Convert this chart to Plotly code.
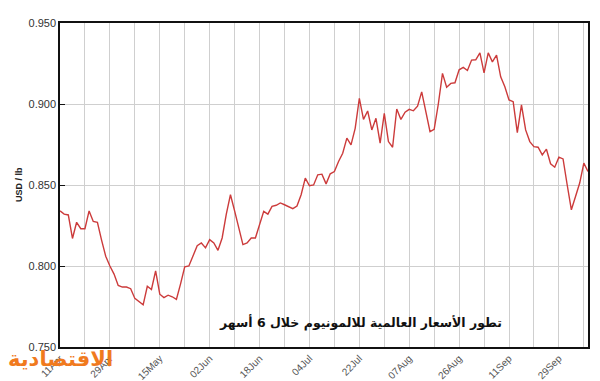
import plotly.graph_objects as go

# Aluminium price, USD per lb, one value per trading day (11 Apr – early Oct)
prices = [
    0.834, 0.832, 0.8315, 0.817, 0.827, 0.823, 0.823, 0.834, 0.8275, 0.827,
    0.816, 0.806, 0.800, 0.795, 0.788, 0.787, 0.787, 0.786, 0.780, 0.778,
    0.776, 0.7875, 0.7855, 0.797, 0.7826, 0.7805, 0.782, 0.781, 0.7794, 0.789,
    0.7995, 0.800, 0.806, 0.8125, 0.8142, 0.8112, 0.8163, 0.8142, 0.8097, 0.8173,
    0.832, 0.844, 0.834, 0.823, 0.8132, 0.8142, 0.8173, 0.8173, 0.826, 0.8337,
    0.832, 0.8368, 0.8375, 0.8389, 0.8378, 0.8368, 0.8354, 0.837, 0.844, 0.8542,
    0.8495, 0.850, 0.8563, 0.8567, 0.8507, 0.8569, 0.8583, 0.8645, 0.8696, 0.8789,
    0.8748, 0.885, 0.9035, 0.8905, 0.8957, 0.884, 0.8912, 0.8758, 0.8942, 0.8768,
    0.8733, 0.8969, 0.8905, 0.8949, 0.8967, 0.8958, 0.8987, 0.9075, 0.895, 0.8829,
    0.8844, 0.900, 0.9189, 0.9104, 0.9127, 0.9131, 0.9211, 0.9226, 0.9207, 0.9271,
    0.9273, 0.9316, 0.9192, 0.9316, 0.926, 0.9301, 0.9168, 0.9106, 0.9025, 0.9014,
    0.8823, 0.8994, 0.884, 0.8768, 0.8737, 0.8733, 0.8686, 0.8721, 0.8631, 0.861,
    0.8672, 0.8661, 0.850, 0.8347, 0.8429, 0.8512, 0.8635, 0.8583,
]
day_index = list(range(len(prices)))

# Labels every 12 trading days, gridlines every 6
tick_positions = list(range(0, 127, 6))
tick_dates = ["11Apr", "29Apr", "15May", "02Jun", "18Jun", "04Jul",
              "22Jul", "07Aug", "26Aug", "11Sep", "29Sep"]
tick_text = []
for k, _ in enumerate(tick_positions):
    tick_text.append(tick_dates[k // 2] if k % 2 == 0 else "")

y_ticks = [0.75, 0.80, 0.85, 0.90, 0.95]
title_ar = "تطور الأسعار العالمية للالمونيوم خلال 6 أسهر"
logo = "الاقتصادية"

# The page body has an 8px margin, so the figure is drawn 8px in from the window corner
W, H = 592, 373
PL, PR, PT, PB = 52, 12, 15, 34
PW, PH = W - PL - PR, H - PT - PB

fig = go.Figure()
fig.add_trace(go.Scatter(
    x=day_index, y=prices, mode="lines",
    line=dict(color="#cc3b3b", width=1.4),
    hoverinfo="skip", showlegend=False,
))

fig.update_layout(
    width=W, height=H,
    margin=dict(l=PL, r=PR, t=PT, b=PB, autoexpand=False),
    paper_bgcolor="white", plot_bgcolor="white",
    font=dict(family="Liberation Sans, Arial, sans-serif", color="#333"),
    xaxis=dict(
        range=[0, 127], tickmode="array", tickvals=tick_positions, ticktext=tick_text,
        tickangle=-45, tickfont=dict(size=10, color="#555"), automargin=False,
        showgrid=True, gridcolor="#cfcfcf", gridwidth=1,
        showline=True, linecolor="#111", linewidth=1.5, mirror=True,
        ticks="", zeroline=False,
    ),
    yaxis=dict(
        range=[0.75, 0.95], tickmode="array", tickvals=y_ticks, automargin=False,
        tickformat=".3f", tickfont=dict(size=11, color="#333"),
        showgrid=True, gridcolor="#cfcfcf", gridwidth=1,
        showline=True, linecolor="#111", linewidth=1.5, mirror=True,
        ticks="inside", ticklen=5, tickcolor="#111", zeroline=False,
    ),
    annotations=[
        dict(text="<b>USD / lb</b>", xref="paper", yref="paper",
             x=(19 - 8 - PL) / PW, y=0.5, textangle=-90, showarrow=False,
             font=dict(size=9, color="#222"), xanchor="center", yanchor="middle"),
        dict(text="<b>" + title_ar + "</b>", xref="paper", yref="paper",
             x=(360 - 8 - PL) / PW, y=(339 - 314) / PH, showarrow=False,
             font=dict(size=12.5, color="#111", family="DejaVu Sans, sans-serif"),
             xanchor="center", yanchor="middle"),
        dict(text="<b>" + logo + "</b>", xref="paper", yref="paper",
             x=(60 - 8 - PL) / PW, y=(339 - 351) / PH, showarrow=False,
             font=dict(size=21, color="#f07a1e", family="DejaVu Sans, sans-serif"),
             xanchor="center", yanchor="middle"),
    ],
)

fig.write_html("out.html")
